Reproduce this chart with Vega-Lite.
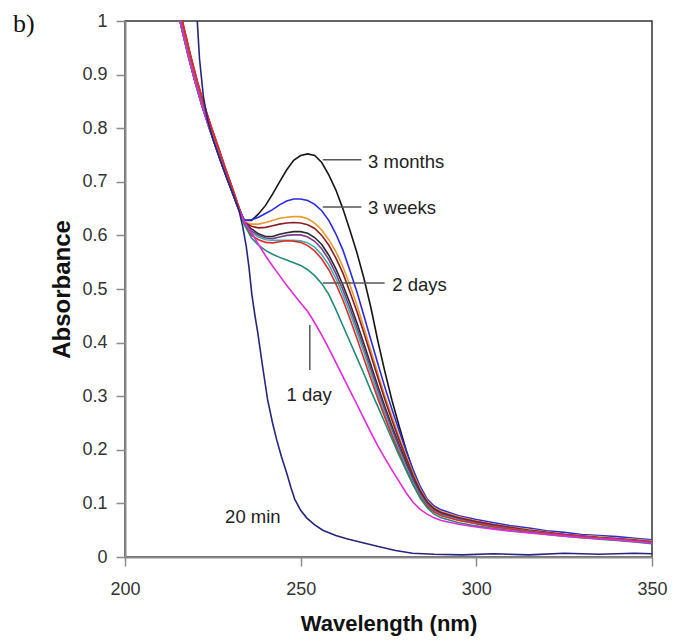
{
  "$schema": "https://vega.github.io/schema/vega-lite/v6.json",
  "width": 527,
  "height": 536,
  "autosize": {"type": "none"},
  "padding": {"left": 125, "top": 21, "right": 21, "bottom": 83},
  "background": "white",
  "title": {"text": "b)", "anchor": "start", "frame": "group", "dx": -112, "dy": 34, "offset": -12, "font": "Liberation Serif", "fontSize": 26, "fontWeight": "normal", "color": "#111", "baseline": "alphabetic"},
  "config": {
    "view": {"stroke": "#333", "strokeWidth": 1.5},
    "axis": {"grid": false, "labelFlush": false, "domainColor": "#8a8a8a", "domainWidth": 2, "tickColor": "#8a8a8a", "tickWidth": 1.5, "tickSize": 9, "labelFont": "Liberation Sans", "labelFontSize": 18, "labelColor": "#333", "titleFont": "Liberation Sans", "titleFontWeight": "bold", "titleColor": "#111"}
  },
  "datasets": {
    "curves": [
      {"s":"3 months","w":214.6,"a":1.03},{"s":"3 months","w":216,"a":0.99},{"s":"3 months","w":218,"a":0.935},{"s":"3 months","w":220,"a":0.885},{"s":"3 months","w":222,"a":0.84},{"s":"3 months","w":224,"a":0.80},{"s":"3 months","w":226,"a":0.762},{"s":"3 months","w":228,"a":0.725},{"s":"3 months","w":230,"a":0.69},{"s":"3 months","w":232,"a":0.655},{"s":"3 months","w":234,"a":0.628},{"s":"3 months","w":236,"a":0.628},{"s":"3 months","w":238,"a":0.64},{"s":"3 months","w":240,"a":0.656},{"s":"3 months","w":242,"a":0.677},{"s":"3 months","w":244,"a":0.7},{"s":"3 months","w":246,"a":0.722},{"s":"3 months","w":248,"a":0.74},{"s":"3 months","w":250,"a":0.749},{"s":"3 months","w":252,"a":0.752},{"s":"3 months","w":254,"a":0.749},{"s":"3 months","w":256,"a":0.736},{"s":"3 months","w":258,"a":0.713},{"s":"3 months","w":260,"a":0.685},{"s":"3 months","w":262,"a":0.65},{"s":"3 months","w":264,"a":0.61},{"s":"3 months","w":266,"a":0.568},{"s":"3 months","w":268,"a":0.52},{"s":"3 months","w":270,"a":0.465},{"s":"3 months","w":272,"a":0.402},{"s":"3 months","w":274,"a":0.345},{"s":"3 months","w":276,"a":0.292},{"s":"3 months","w":278,"a":0.245},{"s":"3 months","w":280,"a":0.2},{"s":"3 months","w":282,"a":0.16},{"s":"3 months","w":284,"a":0.126},{"s":"3 months","w":286,"a":0.102},{"s":"3 months","w":288,"a":0.09},{"s":"3 months","w":290,"a":0.083},{"s":"3 months","w":295,"a":0.073},{"s":"3 months","w":300,"a":0.066},{"s":"3 months","w":305,"a":0.06},{"s":"3 months","w":310,"a":0.055},{"s":"3 months","w":315,"a":0.05},{"s":"3 months","w":320,"a":0.046},{"s":"3 months","w":325,"a":0.042},{"s":"3 months","w":330,"a":0.039},{"s":"3 months","w":335,"a":0.037},{"s":"3 months","w":340,"a":0.034},{"s":"3 months","w":345,"a":0.032},{"s":"3 months","w":350,"a":0.028},

      {"s":"3 weeks","w":214.8,"a":1.03},{"s":"3 weeks","w":216.2,"a":0.99},{"s":"3 weeks","w":218.2,"a":0.935},{"s":"3 weeks","w":220.2,"a":0.885},{"s":"3 weeks","w":222.2,"a":0.84},{"s":"3 weeks","w":224.2,"a":0.80},{"s":"3 weeks","w":226.2,"a":0.762},{"s":"3 weeks","w":228.1,"a":0.725},{"s":"3 weeks","w":230.1,"a":0.69},{"s":"3 weeks","w":232.1,"a":0.655},{"s":"3 weeks","w":234,"a":0.628},{"s":"3 weeks","w":236,"a":0.629},{"s":"3 weeks","w":238,"a":0.634},{"s":"3 weeks","w":240,"a":0.641},{"s":"3 weeks","w":242,"a":0.648},{"s":"3 weeks","w":244,"a":0.657},{"s":"3 weeks","w":246,"a":0.664},{"s":"3 weeks","w":248,"a":0.668},{"s":"3 weeks","w":250,"a":0.668},{"s":"3 weeks","w":252,"a":0.665},{"s":"3 weeks","w":254,"a":0.658},{"s":"3 weeks","w":256,"a":0.646},{"s":"3 weeks","w":258,"a":0.628},{"s":"3 weeks","w":260,"a":0.603},{"s":"3 weeks","w":262,"a":0.573},{"s":"3 weeks","w":264,"a":0.535},{"s":"3 weeks","w":266,"a":0.495},{"s":"3 weeks","w":268,"a":0.45},{"s":"3 weeks","w":270,"a":0.405},{"s":"3 weeks","w":272,"a":0.36},{"s":"3 weeks","w":274,"a":0.316},{"s":"3 weeks","w":276,"a":0.275},{"s":"3 weeks","w":278,"a":0.236},{"s":"3 weeks","w":280,"a":0.198},{"s":"3 weeks","w":282,"a":0.163},{"s":"3 weeks","w":284,"a":0.132},{"s":"3 weeks","w":286,"a":0.108},{"s":"3 weeks","w":288,"a":0.095},{"s":"3 weeks","w":290,"a":0.088},{"s":"3 weeks","w":295,"a":0.077},{"s":"3 weeks","w":300,"a":0.07},{"s":"3 weeks","w":305,"a":0.064},{"s":"3 weeks","w":310,"a":0.058},{"s":"3 weeks","w":315,"a":0.054},{"s":"3 weeks","w":320,"a":0.049},{"s":"3 weeks","w":325,"a":0.046},{"s":"3 weeks","w":330,"a":0.042},{"s":"3 weeks","w":335,"a":0.04},{"s":"3 weeks","w":340,"a":0.038},{"s":"3 weeks","w":345,"a":0.035},{"s":"3 weeks","w":350,"a":0.032},

      {"s":"orange","w":215.1,"a":1.03},{"s":"orange","w":216.5,"a":0.99},{"s":"orange","w":218.5,"a":0.935},{"s":"orange","w":220.5,"a":0.885},{"s":"orange","w":222.5,"a":0.84},{"s":"orange","w":224.5,"a":0.80},{"s":"orange","w":226.5,"a":0.762},{"s":"orange","w":228.4,"a":0.725},{"s":"orange","w":230.3,"a":0.69},{"s":"orange","w":232.2,"a":0.655},{"s":"orange","w":234,"a":0.625},{"s":"orange","w":236,"a":0.621},{"s":"orange","w":238,"a":0.621},{"s":"orange","w":240,"a":0.624},{"s":"orange","w":242,"a":0.628},{"s":"orange","w":244,"a":0.632},{"s":"orange","w":246,"a":0.634},{"s":"orange","w":248,"a":0.635},{"s":"orange","w":250,"a":0.635},{"s":"orange","w":252,"a":0.631},{"s":"orange","w":254,"a":0.623},{"s":"orange","w":256,"a":0.61},{"s":"orange","w":258,"a":0.592},{"s":"orange","w":260,"a":0.57},{"s":"orange","w":262,"a":0.542},{"s":"orange","w":264,"a":0.508},{"s":"orange","w":266,"a":0.47},{"s":"orange","w":268,"a":0.428},{"s":"orange","w":270,"a":0.385},{"s":"orange","w":272,"a":0.342},{"s":"orange","w":274,"a":0.3},{"s":"orange","w":276,"a":0.262},{"s":"orange","w":278,"a":0.225},{"s":"orange","w":280,"a":0.19},{"s":"orange","w":282,"a":0.156},{"s":"orange","w":284,"a":0.127},{"s":"orange","w":286,"a":0.105},{"s":"orange","w":288,"a":0.092},{"s":"orange","w":290,"a":0.085},{"s":"orange","w":295,"a":0.075},{"s":"orange","w":300,"a":0.067},{"s":"orange","w":305,"a":0.061},{"s":"orange","w":310,"a":0.056},{"s":"orange","w":315,"a":0.051},{"s":"orange","w":320,"a":0.047},{"s":"orange","w":325,"a":0.043},{"s":"orange","w":330,"a":0.04},{"s":"orange","w":335,"a":0.038},{"s":"orange","w":340,"a":0.035},{"s":"orange","w":345,"a":0.033},{"s":"orange","w":350,"a":0.03},

      {"s":"maroon","w":215.3,"a":1.03},{"s":"maroon","w":216.7,"a":0.99},{"s":"maroon","w":218.7,"a":0.935},{"s":"maroon","w":220.7,"a":0.885},{"s":"maroon","w":222.7,"a":0.84},{"s":"maroon","w":224.7,"a":0.80},{"s":"maroon","w":226.7,"a":0.762},{"s":"maroon","w":228.6,"a":0.725},{"s":"maroon","w":230.5,"a":0.69},{"s":"maroon","w":232.3,"a":0.655},{"s":"maroon","w":234,"a":0.624},{"s":"maroon","w":236,"a":0.617},{"s":"maroon","w":238,"a":0.614},{"s":"maroon","w":240,"a":0.615},{"s":"maroon","w":242,"a":0.618},{"s":"maroon","w":244,"a":0.621},{"s":"maroon","w":246,"a":0.623},{"s":"maroon","w":248,"a":0.624},{"s":"maroon","w":250,"a":0.623},{"s":"maroon","w":252,"a":0.62},{"s":"maroon","w":254,"a":0.613},{"s":"maroon","w":256,"a":0.6},{"s":"maroon","w":258,"a":0.582},{"s":"maroon","w":260,"a":0.558},{"s":"maroon","w":262,"a":0.53},{"s":"maroon","w":264,"a":0.495},{"s":"maroon","w":266,"a":0.458},{"s":"maroon","w":268,"a":0.418},{"s":"maroon","w":270,"a":0.376},{"s":"maroon","w":272,"a":0.334},{"s":"maroon","w":274,"a":0.293},{"s":"maroon","w":276,"a":0.255},{"s":"maroon","w":278,"a":0.219},{"s":"maroon","w":280,"a":0.185},{"s":"maroon","w":282,"a":0.152},{"s":"maroon","w":284,"a":0.124},{"s":"maroon","w":286,"a":0.103},{"s":"maroon","w":288,"a":0.09},{"s":"maroon","w":290,"a":0.083},{"s":"maroon","w":295,"a":0.073},{"s":"maroon","w":300,"a":0.066},{"s":"maroon","w":305,"a":0.06},{"s":"maroon","w":310,"a":0.055},{"s":"maroon","w":315,"a":0.05},{"s":"maroon","w":320,"a":0.046},{"s":"maroon","w":325,"a":0.042},{"s":"maroon","w":330,"a":0.039},{"s":"maroon","w":335,"a":0.036},{"s":"maroon","w":340,"a":0.034},{"s":"maroon","w":345,"a":0.031},{"s":"maroon","w":350,"a":0.028},

      {"s":"black2","w":214.6,"a":1.03},{"s":"black2","w":216,"a":0.99},{"s":"black2","w":218,"a":0.935},{"s":"black2","w":220,"a":0.885},{"s":"black2","w":222,"a":0.84},{"s":"black2","w":224,"a":0.80},{"s":"black2","w":226,"a":0.762},{"s":"black2","w":228,"a":0.725},{"s":"black2","w":230,"a":0.69},{"s":"black2","w":232,"a":0.655},{"s":"black2","w":234,"a":0.624},{"s":"black2","w":236,"a":0.612},{"s":"black2","w":238,"a":0.603},{"s":"black2","w":240,"a":0.598},{"s":"black2","w":242,"a":0.598},{"s":"black2","w":244,"a":0.602},{"s":"black2","w":246,"a":0.605},{"s":"black2","w":248,"a":0.607},{"s":"black2","w":250,"a":0.607},{"s":"black2","w":252,"a":0.604},{"s":"black2","w":254,"a":0.596},{"s":"black2","w":256,"a":0.583},{"s":"black2","w":258,"a":0.563},{"s":"black2","w":260,"a":0.538},{"s":"black2","w":262,"a":0.508},{"s":"black2","w":264,"a":0.474},{"s":"black2","w":266,"a":0.437},{"s":"black2","w":268,"a":0.398},{"s":"black2","w":270,"a":0.358},{"s":"black2","w":272,"a":0.318},{"s":"black2","w":274,"a":0.28},{"s":"black2","w":276,"a":0.244},{"s":"black2","w":278,"a":0.21},{"s":"black2","w":280,"a":0.177},{"s":"black2","w":282,"a":0.146},{"s":"black2","w":284,"a":0.12},{"s":"black2","w":286,"a":0.1},{"s":"black2","w":288,"a":0.088},{"s":"black2","w":290,"a":0.081},{"s":"black2","w":295,"a":0.071},{"s":"black2","w":300,"a":0.064},{"s":"black2","w":305,"a":0.058},{"s":"black2","w":310,"a":0.053},{"s":"black2","w":315,"a":0.049},{"s":"black2","w":320,"a":0.045},{"s":"black2","w":325,"a":0.041},{"s":"black2","w":330,"a":0.038},{"s":"black2","w":335,"a":0.036},{"s":"black2","w":340,"a":0.033},{"s":"black2","w":345,"a":0.031},{"s":"black2","w":350,"a":0.027},

      {"s":"purple","w":214.7,"a":1.03},{"s":"purple","w":216.1,"a":0.99},{"s":"purple","w":218.1,"a":0.935},{"s":"purple","w":220.1,"a":0.885},{"s":"purple","w":222.1,"a":0.84},{"s":"purple","w":224.1,"a":0.80},{"s":"purple","w":226.1,"a":0.762},{"s":"purple","w":228.1,"a":0.725},{"s":"purple","w":230.1,"a":0.69},{"s":"purple","w":232.1,"a":0.655},{"s":"purple","w":234,"a":0.622},{"s":"purple","w":236,"a":0.608},{"s":"purple","w":238,"a":0.6},{"s":"purple","w":240,"a":0.595},{"s":"purple","w":242,"a":0.594},{"s":"purple","w":244,"a":0.597},{"s":"purple","w":246,"a":0.6},{"s":"purple","w":248,"a":0.601},{"s":"purple","w":250,"a":0.601},{"s":"purple","w":252,"a":0.597},{"s":"purple","w":254,"a":0.589},{"s":"purple","w":256,"a":0.575},{"s":"purple","w":258,"a":0.555},{"s":"purple","w":260,"a":0.529},{"s":"purple","w":262,"a":0.499},{"s":"purple","w":264,"a":0.465},{"s":"purple","w":266,"a":0.428},{"s":"purple","w":268,"a":0.39},{"s":"purple","w":270,"a":0.35},{"s":"purple","w":272,"a":0.311},{"s":"purple","w":274,"a":0.274},{"s":"purple","w":276,"a":0.238},{"s":"purple","w":278,"a":0.205},{"s":"purple","w":280,"a":0.173},{"s":"purple","w":282,"a":0.143},{"s":"purple","w":284,"a":0.118},{"s":"purple","w":286,"a":0.099},{"s":"purple","w":288,"a":0.087},{"s":"purple","w":290,"a":0.08},{"s":"purple","w":295,"a":0.071},{"s":"purple","w":300,"a":0.064},{"s":"purple","w":305,"a":0.058},{"s":"purple","w":310,"a":0.053},{"s":"purple","w":315,"a":0.049},{"s":"purple","w":320,"a":0.045},{"s":"purple","w":325,"a":0.042},{"s":"purple","w":330,"a":0.039},{"s":"purple","w":335,"a":0.036},{"s":"purple","w":340,"a":0.034},{"s":"purple","w":345,"a":0.031},{"s":"purple","w":350,"a":0.029},

      {"s":"teal","w":214.6,"a":1.03},{"s":"teal","w":216,"a":0.99},{"s":"teal","w":218,"a":0.935},{"s":"teal","w":220,"a":0.885},{"s":"teal","w":222,"a":0.84},{"s":"teal","w":224,"a":0.80},{"s":"teal","w":226,"a":0.762},{"s":"teal","w":228,"a":0.725},{"s":"teal","w":230,"a":0.69},{"s":"teal","w":232,"a":0.655},{"s":"teal","w":234,"a":0.622},{"s":"teal","w":236,"a":0.605},{"s":"teal","w":238,"a":0.597},{"s":"teal","w":240,"a":0.592},{"s":"teal","w":242,"a":0.591},{"s":"teal","w":244,"a":0.591},{"s":"teal","w":246,"a":0.591},{"s":"teal","w":248,"a":0.591},{"s":"teal","w":250,"a":0.59},{"s":"teal","w":252,"a":0.586},{"s":"teal","w":254,"a":0.578},{"s":"teal","w":256,"a":0.564},{"s":"teal","w":258,"a":0.545},{"s":"teal","w":260,"a":0.52},{"s":"teal","w":262,"a":0.49},{"s":"teal","w":264,"a":0.456},{"s":"teal","w":266,"a":0.42},{"s":"teal","w":268,"a":0.382},{"s":"teal","w":270,"a":0.342},{"s":"teal","w":272,"a":0.303},{"s":"teal","w":274,"a":0.266},{"s":"teal","w":276,"a":0.231},{"s":"teal","w":278,"a":0.198},{"s":"teal","w":280,"a":0.167},{"s":"teal","w":282,"a":0.138},{"s":"teal","w":284,"a":0.114},{"s":"teal","w":286,"a":0.096},{"s":"teal","w":288,"a":0.085},{"s":"teal","w":290,"a":0.078},{"s":"teal","w":295,"a":0.069},{"s":"teal","w":300,"a":0.062},{"s":"teal","w":305,"a":0.056},{"s":"teal","w":310,"a":0.052},{"s":"teal","w":315,"a":0.048},{"s":"teal","w":320,"a":0.044},{"s":"teal","w":325,"a":0.04},{"s":"teal","w":330,"a":0.037},{"s":"teal","w":335,"a":0.035},{"s":"teal","w":340,"a":0.032},{"s":"teal","w":345,"a":0.03},{"s":"teal","w":350,"a":0.026},

      {"s":"red","w":215.3,"a":1.03},{"s":"red","w":216.7,"a":0.99},{"s":"red","w":218.7,"a":0.935},{"s":"red","w":220.7,"a":0.885},{"s":"red","w":222.7,"a":0.84},{"s":"red","w":224.7,"a":0.80},{"s":"red","w":226.7,"a":0.762},{"s":"red","w":228.6,"a":0.725},{"s":"red","w":230.5,"a":0.69},{"s":"red","w":232.3,"a":0.655},{"s":"red","w":234,"a":0.62},{"s":"red","w":236,"a":0.6},{"s":"red","w":238,"a":0.592},{"s":"red","w":240,"a":0.587},{"s":"red","w":242,"a":0.586},{"s":"red","w":244,"a":0.588},{"s":"red","w":246,"a":0.59},{"s":"red","w":248,"a":0.589},{"s":"red","w":250,"a":0.587},{"s":"red","w":252,"a":0.581},{"s":"red","w":254,"a":0.571},{"s":"red","w":256,"a":0.556},{"s":"red","w":258,"a":0.536},{"s":"red","w":260,"a":0.51},{"s":"red","w":262,"a":0.48},{"s":"red","w":264,"a":0.445},{"s":"red","w":266,"a":0.408},{"s":"red","w":268,"a":0.37},{"s":"red","w":270,"a":0.332},{"s":"red","w":272,"a":0.295},{"s":"red","w":274,"a":0.26},{"s":"red","w":276,"a":0.226},{"s":"red","w":278,"a":0.194},{"s":"red","w":280,"a":0.163},{"s":"red","w":282,"a":0.135},{"s":"red","w":284,"a":0.112},{"s":"red","w":286,"a":0.095},{"s":"red","w":288,"a":0.084},{"s":"red","w":290,"a":0.077},{"s":"red","w":295,"a":0.068},{"s":"red","w":300,"a":0.062},{"s":"red","w":305,"a":0.056},{"s":"red","w":310,"a":0.052},{"s":"red","w":315,"a":0.048},{"s":"red","w":320,"a":0.044},{"s":"red","w":325,"a":0.041},{"s":"red","w":330,"a":0.038},{"s":"red","w":335,"a":0.035},{"s":"red","w":340,"a":0.033},{"s":"red","w":345,"a":0.03},{"s":"red","w":350,"a":0.027},

      {"s":"green","w":214.6,"a":1.03},{"s":"green","w":216,"a":0.99},{"s":"green","w":218,"a":0.935},{"s":"green","w":220,"a":0.885},{"s":"green","w":222,"a":0.84},{"s":"green","w":224,"a":0.80},{"s":"green","w":226,"a":0.762},{"s":"green","w":228,"a":0.725},{"s":"green","w":230,"a":0.69},{"s":"green","w":232,"a":0.655},{"s":"green","w":234,"a":0.62},{"s":"green","w":236,"a":0.595},{"s":"green","w":238,"a":0.582},{"s":"green","w":240,"a":0.572},{"s":"green","w":242,"a":0.565},{"s":"green","w":244,"a":0.559},{"s":"green","w":246,"a":0.554},{"s":"green","w":248,"a":0.549},{"s":"green","w":250,"a":0.544},{"s":"green","w":252,"a":0.536},{"s":"green","w":254,"a":0.525},{"s":"green","w":256,"a":0.51},{"s":"green","w":258,"a":0.49},{"s":"green","w":260,"a":0.462},{"s":"green","w":262,"a":0.432},{"s":"green","w":264,"a":0.402},{"s":"green","w":266,"a":0.372},{"s":"green","w":268,"a":0.342},{"s":"green","w":270,"a":0.31},{"s":"green","w":272,"a":0.28},{"s":"green","w":274,"a":0.25},{"s":"green","w":276,"a":0.22},{"s":"green","w":278,"a":0.19},{"s":"green","w":280,"a":0.162},{"s":"green","w":282,"a":0.135},{"s":"green","w":284,"a":0.11},{"s":"green","w":286,"a":0.092},{"s":"green","w":288,"a":0.08},{"s":"green","w":290,"a":0.073},{"s":"green","w":295,"a":0.064},{"s":"green","w":300,"a":0.058},{"s":"green","w":305,"a":0.053},{"s":"green","w":310,"a":0.049},{"s":"green","w":315,"a":0.046},{"s":"green","w":320,"a":0.042},{"s":"green","w":325,"a":0.039},{"s":"green","w":330,"a":0.036},{"s":"green","w":335,"a":0.033},{"s":"green","w":340,"a":0.031},{"s":"green","w":345,"a":0.028},{"s":"green","w":350,"a":0.025},

      {"s":"1 day","w":214.6,"a":1.03},{"s":"1 day","w":216,"a":0.99},{"s":"1 day","w":218,"a":0.935},{"s":"1 day","w":220,"a":0.885},{"s":"1 day","w":222,"a":0.84},{"s":"1 day","w":224,"a":0.80},{"s":"1 day","w":226,"a":0.762},{"s":"1 day","w":228,"a":0.725},{"s":"1 day","w":230,"a":0.69},{"s":"1 day","w":232,"a":0.655},{"s":"1 day","w":234,"a":0.625},{"s":"1 day","w":236,"a":0.605},{"s":"1 day","w":238,"a":0.583},{"s":"1 day","w":240,"a":0.562},{"s":"1 day","w":242,"a":0.543},{"s":"1 day","w":244,"a":0.525},{"s":"1 day","w":246,"a":0.507},{"s":"1 day","w":248,"a":0.49},{"s":"1 day","w":250,"a":0.474},{"s":"1 day","w":252,"a":0.458},{"s":"1 day","w":254,"a":0.437},{"s":"1 day","w":256,"a":0.414},{"s":"1 day","w":258,"a":0.389},{"s":"1 day","w":260,"a":0.363},{"s":"1 day","w":262,"a":0.337},{"s":"1 day","w":264,"a":0.311},{"s":"1 day","w":266,"a":0.285},{"s":"1 day","w":268,"a":0.258},{"s":"1 day","w":270,"a":0.232},{"s":"1 day","w":272,"a":0.207},{"s":"1 day","w":274,"a":0.184},{"s":"1 day","w":276,"a":0.162},{"s":"1 day","w":278,"a":0.141},{"s":"1 day","w":280,"a":0.12},{"s":"1 day","w":282,"a":0.102},{"s":"1 day","w":284,"a":0.089},{"s":"1 day","w":286,"a":0.08},{"s":"1 day","w":288,"a":0.073},{"s":"1 day","w":290,"a":0.068},{"s":"1 day","w":295,"a":0.061},{"s":"1 day","w":300,"a":0.056},{"s":"1 day","w":305,"a":0.052},{"s":"1 day","w":310,"a":0.048},{"s":"1 day","w":315,"a":0.045},{"s":"1 day","w":320,"a":0.042},{"s":"1 day","w":325,"a":0.039},{"s":"1 day","w":330,"a":0.036},{"s":"1 day","w":335,"a":0.034},{"s":"1 day","w":340,"a":0.032},{"s":"1 day","w":345,"a":0.029},{"s":"1 day","w":350,"a":0.026},

      {"s":"20 min","w":220.3,"a":1.03},{"s":"20 min","w":221.2,"a":0.93},{"s":"20 min","w":222.3,"a":0.86},{"s":"20 min","w":223.5,"a":0.815},{"s":"20 min","w":225,"a":0.78},{"s":"20 min","w":227,"a":0.742},{"s":"20 min","w":229,"a":0.706},{"s":"20 min","w":231,"a":0.672},{"s":"20 min","w":232.5,"a":0.645},{"s":"20 min","w":233.5,"a":0.617},{"s":"20 min","w":234.5,"a":0.58},{"s":"20 min","w":235.3,"a":0.54},{"s":"20 min","w":236.1,"a":0.49},{"s":"20 min","w":237,"a":0.45},{"s":"20 min","w":237.8,"a":0.418},{"s":"20 min","w":239.2,"a":0.354},{"s":"20 min","w":240.6,"a":0.293},{"s":"20 min","w":242,"a":0.25},{"s":"20 min","w":243.2,"a":0.218},{"s":"20 min","w":244.5,"a":0.188},{"s":"20 min","w":246,"a":0.157},{"s":"20 min","w":247.2,"a":0.13},{"s":"20 min","w":248.3,"a":0.108},{"s":"20 min","w":250,"a":0.087},{"s":"20 min","w":251.7,"a":0.073},{"s":"20 min","w":254,"a":0.06},{"s":"20 min","w":256.3,"a":0.05},{"s":"20 min","w":260,"a":0.04},{"s":"20 min","w":263.1,"a":0.034},{"s":"20 min","w":268,"a":0.026},{"s":"20 min","w":272.4,"a":0.019},{"s":"20 min","w":277,"a":0.012},{"s":"20 min","w":281.8,"a":0.007},{"s":"20 min","w":288,"a":0.005},{"s":"20 min","w":296,"a":0.004},{"s":"20 min","w":305,"a":0.006},{"s":"20 min","w":315,"a":0.004},{"s":"20 min","w":325,"a":0.007},{"s":"20 min","w":335,"a":0.005},{"s":"20 min","w":345,"a":0.007},{"s":"20 min","w":350,"a":0.006}
    ],
    "leaders": [
      {"x1": 256.3, "x2": 267.3, "y1": 0.741, "y2": 0.741},
      {"x1": 256.3, "x2": 267.3, "y1": 0.653, "y2": 0.653},
      {"x1": 256.3, "x2": 273.9, "y1": 0.511, "y2": 0.511},
      {"x1": 252.6, "x2": 252.6, "y1": 0.433, "y2": 0.349}
    ],
    "labels": [
      {"t": "3 months", "w": 269.2, "a": 0.737, "al": "left"},
      {"t": "3 weeks", "w": 269.2, "a": 0.651, "al": "left"},
      {"t": "2 days", "w": 276.1, "a": 0.507, "al": "left"},
      {"t": "1 day", "w": 252.4, "a": 0.302, "al": "center"},
      {"t": "20 min", "w": 236.4, "a": 0.075, "al": "center"}
    ]
  },
  "layer": [
    {
      "data": {"name": "curves"},
      "mark": {"type": "line", "clip": true, "strokeWidth": 1.6},
      "encoding": {
        "x": {"field": "w", "type": "quantitative", "scale": {"domain": [200, 350], "nice": false, "zero": false},
              "axis": {"values": [200, 250, 300, 350], "title": "Wavelength (nm)", "titleFontSize": 22, "labelPadding": 14, "titlePadding": 15}},
        "y": {"field": "a", "type": "quantitative", "scale": {"domain": [0, 1], "nice": false},
              "axis": {"values": [0, 0.1, 0.2, 0.3, 0.4, 0.5, 0.6, 0.7, 0.8, 0.9, 1], "format": ".1~f", "title": "Absorbance", "titleFontSize": 24, "labelPadding": 9, "titlePadding": 7}},
        "color": {"field": "s", "type": "nominal", "legend": null,
                  "scale": {"domain": ["3 months", "3 weeks", "orange", "maroon", "black2", "purple", "teal", "red", "green", "1 day", "20 min"],
                            "range": ["#161616", "#2a2ae0", "#e89a30", "#8c1c28", "#2a2a2a", "#7b3b8f", "#38b2ac", "#e22a2a", "#23897a", "#e22ad8", "#25257e"]}}
      }
    },
    {
      "data": {"name": "leaders"},
      "mark": {"type": "rule", "color": "#555", "strokeWidth": 1.5},
      "encoding": {
        "x": {"field": "x1", "type": "quantitative"},
        "x2": {"field": "x2"},
        "y": {"field": "y1", "type": "quantitative"},
        "y2": {"field": "y2"}
      }
    },
    {
      "data": {"name": "labels"},
      "transform": [{"filter": "datum.al === 'left'"}],
      "mark": {"type": "text", "font": "Liberation Sans", "fontSize": 18.5, "color": "#222", "baseline": "middle", "align": "left"},
      "encoding": {
        "x": {"field": "w", "type": "quantitative"},
        "y": {"field": "a", "type": "quantitative"},
        "text": {"field": "t"}
      }
    },
    {
      "data": {"name": "labels"},
      "transform": [{"filter": "datum.al === 'center'"}],
      "mark": {"type": "text", "font": "Liberation Sans", "fontSize": 18.5, "color": "#222", "baseline": "middle", "align": "center"},
      "encoding": {
        "x": {"field": "w", "type": "quantitative"},
        "y": {"field": "a", "type": "quantitative"},
        "text": {"field": "t"}
      }
    }
  ]
}
